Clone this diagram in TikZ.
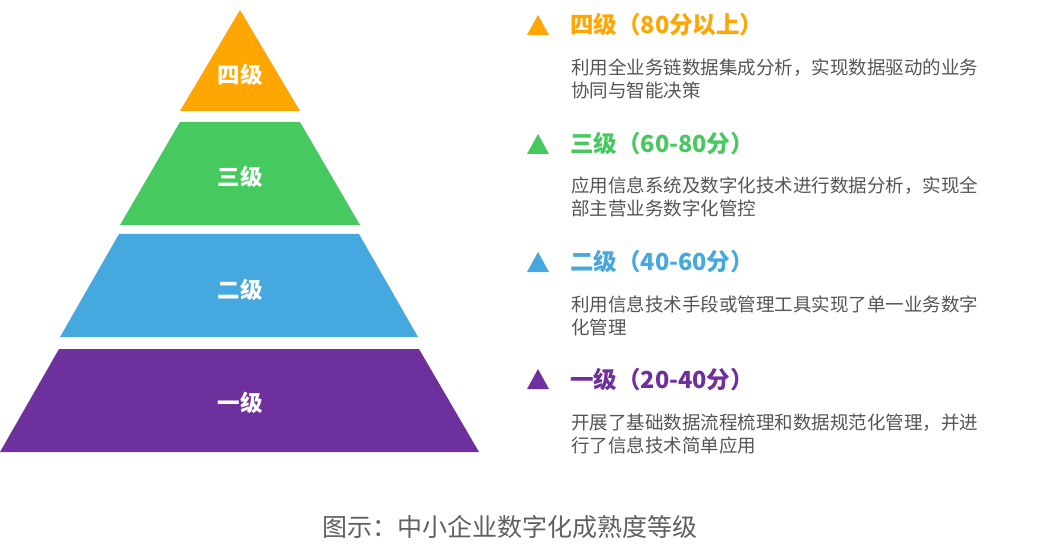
\documentclass[tikz,border=0pt]{standalone}
\usepackage{fontspec}
\setmainfont{Noto Sans CJK SC}
\newfontfamily\cjk{Noto Sans CJK SC}
\definecolor{lvfour}{HTML}{FFA602}
\definecolor{lvthree}{HTML}{46CA60}
\definecolor{lvtwo}{HTML}{45A8DF}
\definecolor{lvone}{HTML}{6E309C}
\definecolor{bodygray}{HTML}{555555}
\definecolor{capgray}{HTML}{606060}
\tikzset{
  x=1pt, y=-1pt,
  band label/.style={text=white, font=\cjk\bfseries\fontsize{22.5}{26}\selectfont, inner sep=0pt},
  level title/.style={anchor=west, inner sep=0pt, font=\cjk\bfseries\fontsize{23.5}{27}\selectfont},
  level body/.style={anchor=west, inner sep=0pt, align=left, text=bodygray, font=\cjk\fontsize{18.5}{23}\selectfont},
  marker/.style={fill=#1}
}
\begin{document}
\begin{tikzpicture}
\useasboundingbox (0,0) rectangle (1044,556);
% pyramid bands
\fill[lvfour] (240,10) -- (300,111) -- (180,111) -- cycle;
\fill[lvthree] (180,122) -- (300,122) -- (360,225) -- (120,225) -- cycle;
\fill[lvtwo] (119,234) -- (359,234) -- (418,337) -- (60,337) -- cycle;
\fill[lvone] (59,349) -- (419,349) -- (479,452) -- (0,452) -- cycle;
\node[band label] (b4) at (240,75) {四级};
\node[band label] (b3) at (240,177) {三级};
\node[band label] (b2) at (240,290) {二级};
\node[band label] (b1) at (240,403) {一级};
% markers
\fill[marker=lvfour] (527,35) -- (549,35) -- (538,15) -- cycle;
\fill[marker=lvthree] (527,154) -- (549,154) -- (538,134) -- cycle;
\fill[marker=lvtwo] (527,272) -- (549,272) -- (538,252) -- cycle;
\fill[marker=lvone] (527,389) -- (549,389) -- (538,369) -- cycle;
% titles
\node[level title, text=lvfour] (t4) at (570,25) {四级（80分以上）};
\node[level title, text=lvthree] (t3) at (570,144) {三级（60-80分）};
\node[level title, text=lvtwo] (t2) at (570,262) {二级（40-60分）};
\node[level title, text=lvone] (t1) at (570,380) {一级（20-40分）};
% bodies
\node[level body] (d4) at (571,78.5) {利用全业务链数据集成分析，实现数据驱动的业务\\协同与智能决策};
\node[level body] (d3) at (571,196.5) {应用信息系统及数字化技术进行数据分析，实现全\\部主营业务数字化管控};
\node[level body] (d2) at (571,316) {利用信息技术手段或管理工具实现了单一业务数字\\化管理};
\node[level body] (d1) at (571,433.5) {开展了基础数据流程梳理和数据规范化管理，并进\\行了信息技术简单应用};
% caption
\node[inner sep=0pt, text=capgray, font=\cjk\fontsize{25}{29}\selectfont] (cap) at (509.5,527) {图示：中小企业数字化成熟度等级};
\end{tikzpicture}
\end{document}
